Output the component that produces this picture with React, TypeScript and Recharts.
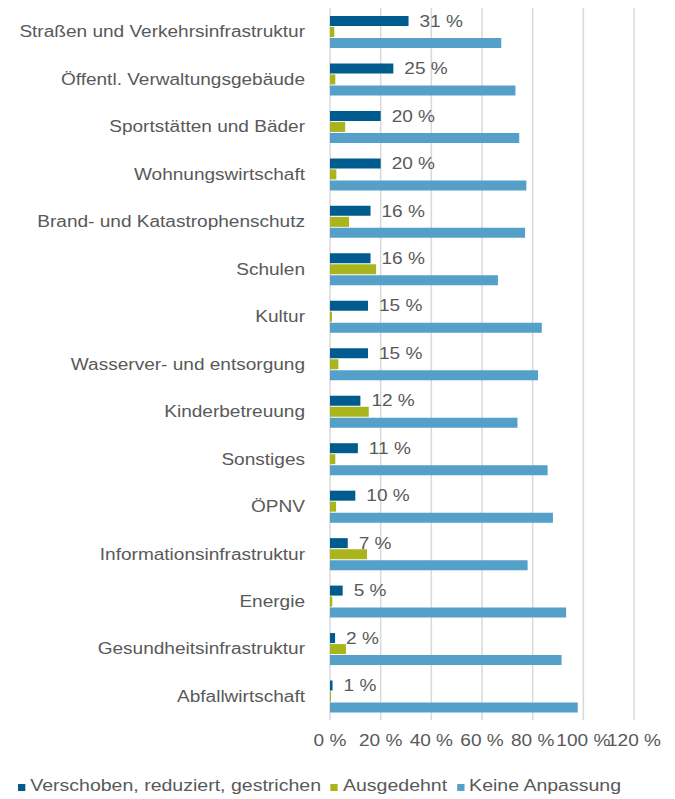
import { BarChart, Bar, XAxis, YAxis, CartesianGrid, LabelList } from "recharts";

const categories = [
  "Straßen und Verkehrsinfrastruktur",
  "Öffentl. Verwaltungsgebäude",
  "Sportstätten und Bäder ",
  "Wohnungswirtschaft",
  "Brand- und Katastrophenschutz ",
  "Schulen",
  "Kultur",
  "Wasserver- und entsorgung",
  "Kinderbetreuung",
  "Sonstiges",
  "ÖPNV",
  "Informationsinfrastruktur",
  "Energie",
  "Gesundheitsinfrastruktur",
  "Abfallwirtschaft",
];

const verschoben = [31, 25, 20, 20, 16, 16, 15, 15, 12, 11, 10, 7, 5, 2, 1];
const ausgedehnt = [1.7, 2.1, 6.0, 2.5, 7.5, 18.2, 0.8, 3.3, 15.3, 2.1, 2.4, 14.6, 0.9, 6.3, 0.4];
const keineAnpassung = [67.6, 73.2, 74.7, 77.5, 77, 66.3, 83.6, 82.1, 74, 85.9, 88, 78, 93.2, 91.4, 97.8];

const xTicks = [0, 20, 40, 60, 80, 100, 120];

const series = [
  { key: "verschoben", name: "Verschoben, reduziert, gestrichen", color: "#005b8e" },
  { key: "ausgedehnt", name: "Ausgedehnt", color: "#aab41c" },
  { key: "keine", name: "Keine Anpassung", color: "#55a0c8" },
];

const data = categories.map((name, i) => ({
  name,
  verschoben: verschoben[i],
  ausgedehnt: ausgedehnt[i],
  keine: keineAnpassung[i],
}));

const FONT = "'Liberation Sans', Arial, sans-serif";
const GREY = "#595959";
// the reference text is stretched a little horizontally
const SX = 1.19;

function YTick({ x, y, payload }: any) {
  return (
    <g transform={`translate(${x},${y})`}>
      <text transform={`scale(${SX},1)`} textAnchor="end" dy="0.355em" fill={GREY} fontSize={16} fontFamily={FONT}>
        {payload.value}
      </text>
    </g>
  );
}

function XTick({ x, y, payload }: any) {
  return (
    <g transform={`translate(${x},${y})`}>
      <text transform={`scale(${SX},1)`} textAnchor="middle" dy="0.71em" fill={GREY} fontSize={16} fontFamily={FONT}>
        {`${payload.value} %`}
      </text>
    </g>
  );
}

function ValueLabel({ x, y, width, height, value }: any) {
  return (
    <g transform={`translate(${x + width + 11},${y + height / 2})`}>
      <text transform={`scale(${SX},1)`} dy="0.355em" fill={GREY} fontSize={16} fontFamily={FONT}>
        {`${value} %`}
      </text>
    </g>
  );
}

export default function App() {
  return (
    <div style={{ position: "absolute", left: 0, top: 0, width: 675, height: 799, background: "#fff", fontFamily: FONT }}>
      <BarChart
        width={675}
        height={799}
        data={data}
        layout="vertical"
        margin={{ top: 8, right: 41, left: 0, bottom: 49 }}
        barSize={10}
        barGap={1}
      >
        <CartesianGrid horizontal={false} stroke="#d9d9d9" strokeWidth={1.5} />
        <XAxis
          type="number"
          domain={[0, 120]}
          ticks={xTicks}
          height={30}
          axisLine={false}
          tickLine={false}
          tickSize={0}
          tickMargin={15}
          interval={0}
          tick={<XTick />}
        />
        <YAxis
          type="category"
          dataKey="name"
          width={330}
          axisLine={false}
          tickLine={false}
          tickSize={0}
          tickMargin={25}
          interval={0}
          tick={<YTick />}
        />
        {series.map((s, i) => (
          <Bar key={s.key} dataKey={s.key} name={s.name} fill={s.color} isAnimationActive={false}>
            {i === 0 && <LabelList dataKey={s.key} content={<ValueLabel />} />}
          </Bar>
        ))}
      </BarChart>
      <div
        style={{
          position: "absolute",
          left: 18,
          top: 777,
          display: "flex",
          alignItems: "center",
          whiteSpace: "nowrap",
          transform: "scaleX(1.22)",
          transformOrigin: "left center",
          fontSize: 16,
          color: GREY,
          lineHeight: "18px",
        }}
      >
        {series.map((s) => (
          <span key={s.key} style={{ display: "flex", alignItems: "center", marginRight: 8 }}>
            <span style={{ display: "inline-block", width: 6, height: 7, background: s.color, marginRight: 4, marginTop: 2 }} />
            {s.name}
          </span>
        ))}
      </div>
    </div>
  );
}
